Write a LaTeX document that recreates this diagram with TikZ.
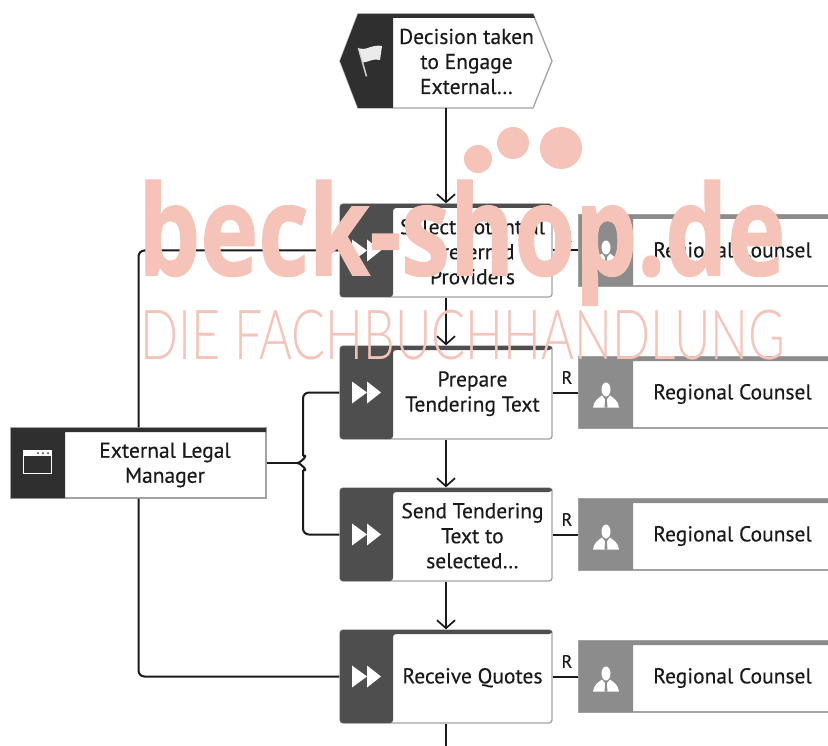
\documentclass[tikz,border=0pt]{standalone}
\usepackage{fontspec}
\usepackage{graphicx}
\usetikzlibrary{arrows.meta}
\setmainfont{PT Sans}[FakeBold=0.3]
\newfontfamily\wmbold{Open Sans}[BoldFeatures={FakeBold=1.2}]
\newfontfamily\wmlight{Lato Light}
\definecolor{funcdark}{HTML}{4E4E4E}
\definecolor{orgdark}{HTML}{2F2F2F}
\definecolor{roledark}{HTML}{8C8C8C}
\definecolor{edgegrey}{HTML}{A3A3A3}
\definecolor{wm}{HTML}{F5C3B8}
\definecolor{ink}{HTML}{1A1A1A}
\tikzset{
  flow/.style={draw=ink,line width=2pt,-{Straight Barb[length=8pt,width=18pt,line width=1.7pt]}},
  link/.style={draw=ink,line width=2pt,rounded corners=6pt},
  bracecurve/.style={draw=ink,line width=2pt},
  funcbox/.style={draw=edgegrey,fill=white,line width=1.3pt,rounded corners=3pt,minimum width=212pt,minimum height=93pt,inner sep=0pt},
  rolebox/.style={draw=edgegrey,fill=white,line width=1.3pt,minimum width=300pt,minimum height=71pt,inner sep=0pt},
  orgbox/.style={draw=edgegrey,fill=white,line width=1.3pt,minimum width=255pt,minimum height=70pt,inner sep=0pt},
  label/.style={font=\fontsize{21.5}{25}\selectfont,text=ink,align=center,inner sep=0pt},
  rtag/.style={font=\fontsize{18}{20}\selectfont,text=ink,inner sep=0pt},
  wmtext/.style={text=wm,inner sep=0pt,anchor=north west}
}
\newcommand\funcnode[3]{%
  \begin{scope}[shift={(0,#2)}]
    \node[funcbox] (#1) at (446,0) {};
    \fill[funcdark,rounded corners=3pt] (393,-42.5) -- (552,-42.5) -- (552,-46.5) -- (340,-46.5) -- (340,46.5) -- (393,46.5) -- cycle;
    \fill[white] (352,-11) -- (367,0) -- (352,11) -- cycle;
    \fill[white] (367,-11) -- (381,0) -- (367,11) -- cycle;
    \node[label] (#1t) at (472.5,1.2) {#3};
  \end{scope}}
\newcommand\rolenode[2]{%
  \begin{scope}[shift={(0,#2)}]
    \node[rolebox] (#1) at (729,0) {};
    \fill[roledark] (633,-31.5) -- (880,-31.5) -- (880,-35.5) -- (579,-35.5) -- (579,35.5) -- (633,35.5) -- cycle;
    \fill[white] (606,-3) ellipse (4.5pt and 7pt);
    \fill[white] (593,15) .. controls (594,8) and (598,6) .. (602,3) -- (606,8) -- (610,3) .. controls (614,6) and (618,8) .. (619,15) -- cycle;
    \fill[roledark] (605.3,6) -- (606.7,6) -- (607.5,15) -- (604.5,15) -- cycle;
    \node[label] (#1t) at (732.5,1.5) {Regional Counsel};
    \node[rtag] (#1r) at (567,-15) {R};
  \end{scope}}
\begin{document}
\begin{tikzpicture}[x=1pt,y=-1pt]
\useasboundingbox[fill=white] (0,0) rectangle (828,746);

% event
\node[inner sep=0pt,minimum width=212pt,minimum height=94pt] (e) at (446,61) {};
\fill[white] (358,14) -- (533,14) -- (552,61) -- (533,108) -- (358,108) -- (340,61) -- cycle;
\draw[edgegrey,line width=1.3pt] (358,14) -- (533,14) -- (552,61) -- (533,108) -- (358,108) -- (340,61) -- cycle;
\fill[orgdark] (393,18) -- (535,18) -- (533,14) -- (358,14) -- (340,61) -- (358,108) -- (393,108) -- cycle;
\draw[white!80!black,line width=1.6pt] (358.5,48) -- (366.5,76.5);
\fill[white!92!black] (359,48.5) .. controls (366,51) and (372,44) .. (382,46) -- (380,60) .. controls (373,58) and (369,62) .. (363,62.5) -- cycle;
\node[label] (et) at (466.5,61.5) {Decision taken\\to Engage\\External\ldots};

% functions
\funcnode{f1}{250.5}{Select potential\\Preferred\\Providers}
\funcnode{f2}{392.5}{Prepare\\Tendering Text}
\funcnode{f3}{534.5}{Send Tendering\\Text to\\selected\ldots}
\funcnode{f4}{676.5}{Receive Quotes}

% roles
\rolenode{r1}{250.5}
\rolenode{r2}{392.5}
\rolenode{r3}{534.5}
\rolenode{r4}{676.5}

% organisation unit
\node[orgbox] (org) at (138.5,463) {};
\fill[orgdark] (65,432) -- (266,432) -- (266,428) -- (11,428) -- (11,498) -- (65,498) -- cycle;
\draw[white,line width=1.3pt] (23.5,450.5) rectangle (51.5,473.5);
\fill[white] (23.5,450.5) rectangle (51.5,456);
\fill[orgdark] (38,453) circle (1pt) (43,453) circle (1pt) (48,453) circle (1pt);
\node[label] (orgt) at (165,465) {External Legal\\Manager};

% connectors
\coordinate (brace) at (297,463);
\coordinate (braceup) at (303,456);
\coordinate (bracedown) at (303,470);
\coordinate (exit) at (446,746);
\draw[flow] (e.south) -- (f1.north);
\draw[flow] (f1) -- (f2);
\draw[flow] (f2) -- (f3);
\draw[flow] (f3) -- (f4);
\draw[link] (f4.south) -- (exit);
\draw[link] (org.north) |- (f1.west);
\draw[link] (org.south) |- (f4.west);
\draw[link] (org.east) -- (brace);
\draw[bracecurve] (brace) .. controls +(4,0) and +(6,-2) .. (braceup);
\draw[bracecurve] (brace) .. controls +(4,0) and +(6,2) .. (bracedown);
\draw[link] (braceup) |- (f2.west);
\draw[link] (bracedown) |- (f3.west);
\draw[link] (f1.east) -- (r1.west);
\draw[link] (f2.east) -- (r2.west);
\draw[link] (f3.east) -- (r3.west);
\draw[link] (f4.east) -- (r4.west);

% watermark
\fill[wm] (478,159) ellipse (14pt and 14pt);
\fill[wm] (513,143) ellipse (16pt and 16pt);
\fill[wm] (561,148) ellipse (21pt and 21pt);
\node[wmtext] (wa) at (138,180) {\resizebox*{647pt}{125pt}{\wmbold\bfseries beck-shop.de}};
\node[wmtext] (wb) at (140,310) {\resizebox*{645pt}{50pt}{\wmlight DIE FACHBUCHHANDLUNG}};
\end{tikzpicture}
\end{document}
